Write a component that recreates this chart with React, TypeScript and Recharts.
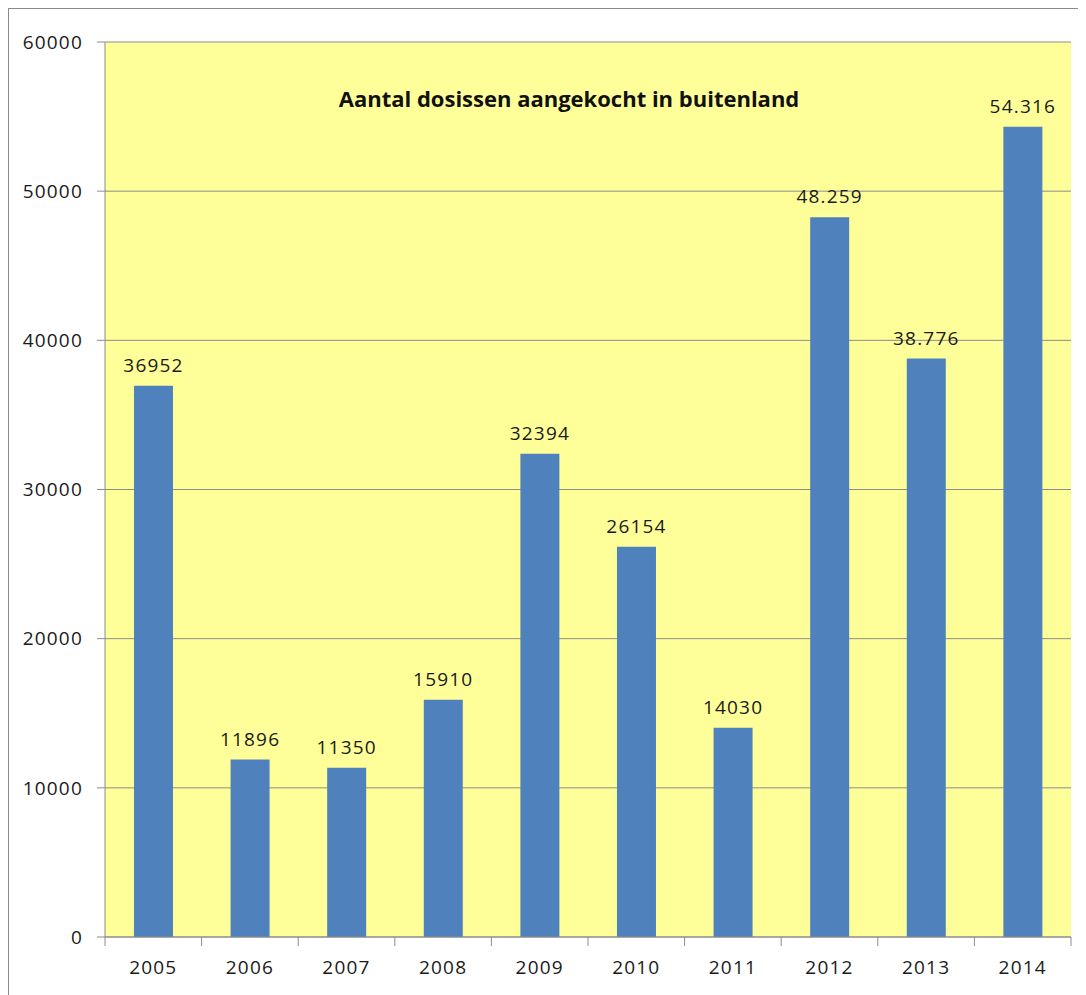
import { BarChart, Bar, XAxis, YAxis, CartesianGrid, LabelList } from "recharts";

const years = ["2005", "2006", "2007", "2008", "2009", "2010", "2011", "2012", "2013", "2014"];
const doses = [36952, 11896, 11350, 15910, 32394, 26154, 14030, 48259, 38776, 54316];
const doseLabels = ["36952", "11896", "11350", "15910", "32394", "26154", "14030", "48.259", "38.776", "54.316"];
const yTicks = [0, 10000, 20000, 30000, 40000, 50000, 60000];

const title = "Aantal dosissen aangekocht in buitenland";

const data = years.map((year, i) => ({ year, doses: doses[i], label: doseLabels[i] }));

const font = "'Open Sans', sans-serif";
const textStyle = { fontFamily: font, fontSize: 19, letterSpacing: 1.2, fill: "#1a1a1a" };
const axisGray = "#8c8c8c";
const X_TICK_MARGIN = 24;

// year label plus tick marks on the category boundaries (Excel style)
const YearTick = (props: any) => {
    const { x, y, payload, index } = props;
    const half = payload.offset || 0;
    const axisY = y - X_TICK_MARGIN;
    return (
        <g>
            <line x1={x - half} x2={x - half} y1={axisY} y2={axisY + 9} stroke={axisGray} />
            {index === years.length - 1 && (
                <line x1={x + half} x2={x + half} y1={axisY} y2={axisY + 9} stroke={axisGray} />
            )}
            <text x={x} y={y} dy="0.71em" textAnchor="middle" style={textStyle}>
                {payload.value}
            </text>
        </g>
    );
};

const App = () => {
    return (
        <div style={{ position: "relative", width: 1078, height: 987 }}>
            <div
                style={{
                    position: "absolute",
                    left: -1,
                    top: -1,
                    width: 1100,
                    height: 1000,
                    borderLeft: "2px solid #8a8a8a",
                    borderTop: "2px solid #8a8a8a",
                    pointerEvents: "none",
                }}
            />
            <BarChart
                width={1078}
                height={987}
                data={data}
                margin={{ top: 34, right: 15, bottom: 0, left: 17 }}
                barCategoryGap="30%"
            >
                <CartesianGrid horizontal={true} vertical={false} fill="#FFFF99" stroke={axisGray} strokeWidth={1} />
                <XAxis
                    dataKey="year"
                    axisLine={{ stroke: axisGray }}
                    tickLine={false}
                    tickSize={0}
                    tickMargin={X_TICK_MARGIN}
                    tick={<YearTick />}
                    interval={0}
                    height={58}
                />
                <YAxis
                    width={80}
                    domain={[0, 60000]}
                    ticks={yTicks}
                    tickSize={8}
                    tickMargin={14}
                    axisLine={{ stroke: axisGray }}
                    tickLine={{ stroke: axisGray }}
                    tick={textStyle}
                />
                <Bar dataKey="doses" fill="#4F81BD" isAnimationActive={false}>
                    <LabelList dataKey="label" position="top" offset={14} style={textStyle} />
                </Bar>
            </BarChart>
            <div
                style={{
                    position: "absolute",
                    left: 569 - 8 - 300,
                    width: 600,
                    top: 84 - 8,
                    textAlign: "center",
                    fontFamily: font,
                    fontWeight: 700,
                    fontSize: 22,
                    color: "#111",
                    lineHeight: "28px",
                }}
            >
                {title}
            </div>
        </div>
    );
};

export default App;
